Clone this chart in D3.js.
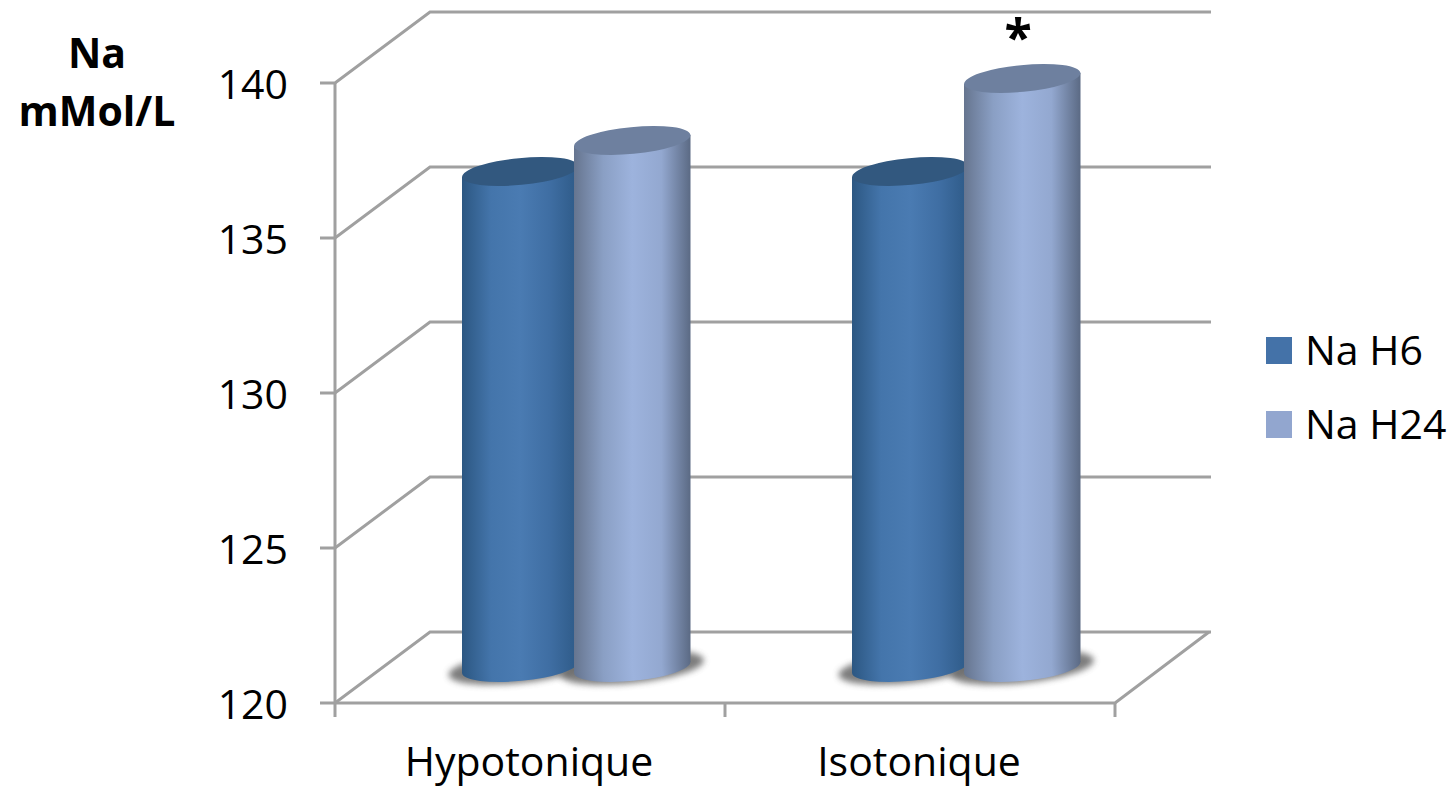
<!DOCTYPE html>
<html>
<head>
<meta charset="utf-8">
<script src="https://cdn.jsdelivr.net/npm/d3@7"></script>
<style>
  html, body { margin: 0; padding: 0; background: #fff; overflow: hidden; }
  text { font-family: "Open Sans", sans-serif; fill: #000; }
</style>
</head>
<body>
<div id="chart"></div>
<script>
const categories = ["Hypotonique", "Isotonique"];
const seriesNames = ["Na H6", "Na H24"];
const naH6 = [136, 136];
const naH24 = [137, 139];
const yTicks = [120, 125, 130, 135, 140];
const axisTitle = ["Na", "mMol/L"];

const seriesValues = [naH6, naH24];
const barColors = [
  { top: "#32587f", stops: ["#2c5782", "#4475ab", "#4a7bb2", "#3f6ea3", "#2e5a87"], key: "#4472a8" },
  { top: "#6e809f", stops: ["#66758f", "#8a9fc4", "#9db3dd", "#93a8d0", "#5b6a84"], key: "#92a6cf" }
];

const width = 1452, height = 787;
// decalage de la profondeur 3D
const depthX = 95, depthY = -71;
const gridColor = "#a0a0a0";

const svg = d3.select("#chart").append("svg")
  .attr("width", width)
  .attr("height", height);

const y = d3.scaleLinear().domain([120, 140]).range([703, 83]);
const x0 = d3.scaleBand().domain(categories).range([335, 1115]);
const x1 = d3.scaleBand().domain(seriesNames).range([79.5, 303.5]);
const barWidth = 116.5;
const tilt = -5.6, ry = 13.4;

const defs = svg.append("defs");
barColors.forEach((c, i) => {
  const g = defs.append("linearGradient").attr("id", "bar" + i);
  c.stops.forEach((s, k) => {
    g.append("stop").attr("offset", (k / (c.stops.length - 1) * 100) + "%").attr("stop-color", s);
  });
});
defs.append("filter").attr("id", "blur")
  .attr("x", "-20%").attr("y", "-50%").attr("width", "140%").attr("height", "200%")
  .append("feGaussianBlur").attr("stdDeviation", 3);

// murs et grille
const grid = svg.append("g").attr("fill", "none").attr("stroke", gridColor).attr("stroke-width", 3);
grid.selectAll("path").data(yTicks).join("path")
  .attr("d", d => d3.line()([
    [320, y(d)],
    [x0.range()[0], y(d)],
    [x0.range()[0] + depthX, y(d) + depthY],
    [1211, y(d) + depthY]
  ]));
grid.append("path")
  .attr("d", d3.line()([[x0.range()[0], y(120)], [1115, y(120)], [1209, y(120) + depthY]]));
grid.append("path")
  .attr("d", d3.line()([[x0.range()[0], y(140)], [x0.range()[0], y(120) + 14]]));
grid.selectAll("line").data(categories).join("line")
  .attr("x1", d => x0(d) + x0.bandwidth())
  .attr("x2", d => x0(d) + x0.bandwidth())
  .attr("y1", y(120))
  .attr("y2", y(120) + 14);

const bars = [];
categories.forEach((c, ci) => {
  seriesNames.forEach((s, si) => {
    bars.push({ cat: c, name: s, si, value: seriesValues[si][ci] });
  });
});
const barLeft = d => x0(d.cat) + x1(d.name) + depthX / 2;
const barMid = d => barLeft(d) + barWidth / 2;
const base = y(120) + depthY / 2;
const topOf = d => y(d.value) + depthY / 2;

// point de tangence verticale de l'ellipse inclinee
const phi = tilt * Math.PI / 180;
const rx = barWidth / 2 + 0.2;
const tangentDy = (rx * rx - ry * ry) * Math.sin(phi) * Math.cos(phi) / (barWidth / 2);

// ombres au sol
svg.append("g").selectAll("ellipse").data(bars).join("ellipse")
  .attr("cx", barMid)
  .attr("cy", base)
  .attr("rx", 72)
  .attr("ry", 15.5)
  .attr("fill", "#666")
  .attr("opacity", 0.85)
  .attr("filter", "url(#blur)")
  .attr("transform", d => `rotate(-6 ${barMid(d)} ${base})`);

// cylindres : fond, corps, dessus
const barG = svg.append("g").selectAll("g").data(bars).join("g");
barG.append("ellipse")
  .attr("cx", barMid)
  .attr("cy", base)
  .attr("rx", rx)
  .attr("ry", ry)
  .attr("fill", d => `url(#bar${d.si})`)
  .attr("transform", d => `rotate(${tilt} ${barMid(d)} ${base})`);
barG.append("path")
  .attr("d", d => d3.line()([
    [barLeft(d), topOf(d) - tangentDy],
    [barLeft(d), base - tangentDy],
    [barLeft(d) + barWidth, base + tangentDy],
    [barLeft(d) + barWidth, topOf(d) + tangentDy]
  ]) + "Z")
  .attr("fill", d => `url(#bar${d.si})`);
barG.append("ellipse")
  .attr("cx", barMid)
  .attr("cy", topOf)
  .attr("rx", rx)
  .attr("ry", ry)
  .attr("fill", d => barColors[d.si].top)
  .attr("transform", d => `rotate(${tilt} ${barMid(d)} ${topOf(d)})`);

// etiquettes
svg.append("g").selectAll("text").data(yTicks).join("text")
  .attr("x", 288)
  .attr("y", d => y(d) + 16)
  .attr("text-anchor", "end")
  .attr("font-size", 41)
  .text(d => d);

svg.append("g").selectAll("text").data(categories).join("text")
  .attr("x", d => x0(d) + x0.bandwidth() / 2 - 1)
  .attr("y", 776)
  .attr("text-anchor", "middle")
  .attr("font-size", 41)
  .text(d => d);

svg.append("g").selectAll("text").data(axisTitle).join("text")
  .attr("x", 97)
  .attr("y", (d, i) => 68 + i * 58)
  .attr("text-anchor", "middle")
  .attr("font-size", 41)
  .attr("font-weight", 700)
  .text(d => d);

svg.append("text")
  .attr("x", 1018)
  .attr("y", 55)
  .attr("text-anchor", "middle")
  .attr("font-size", 50)
  .attr("font-weight", 700)
  .text("*");

// legende
const legend = svg.append("g").selectAll("g").data(seriesNames).join("g")
  .attr("transform", (d, i) => `translate(1266,${337 + i * 74})`);
legend.append("rect")
  .attr("width", 26).attr("height", 27)
  .attr("fill", (d, i) => barColors[i].key);
legend.append("text")
  .attr("x", 39).attr("y", 28)
  .attr("font-size", 41)
  .text(d => d);
</script>
</body>
</html>
